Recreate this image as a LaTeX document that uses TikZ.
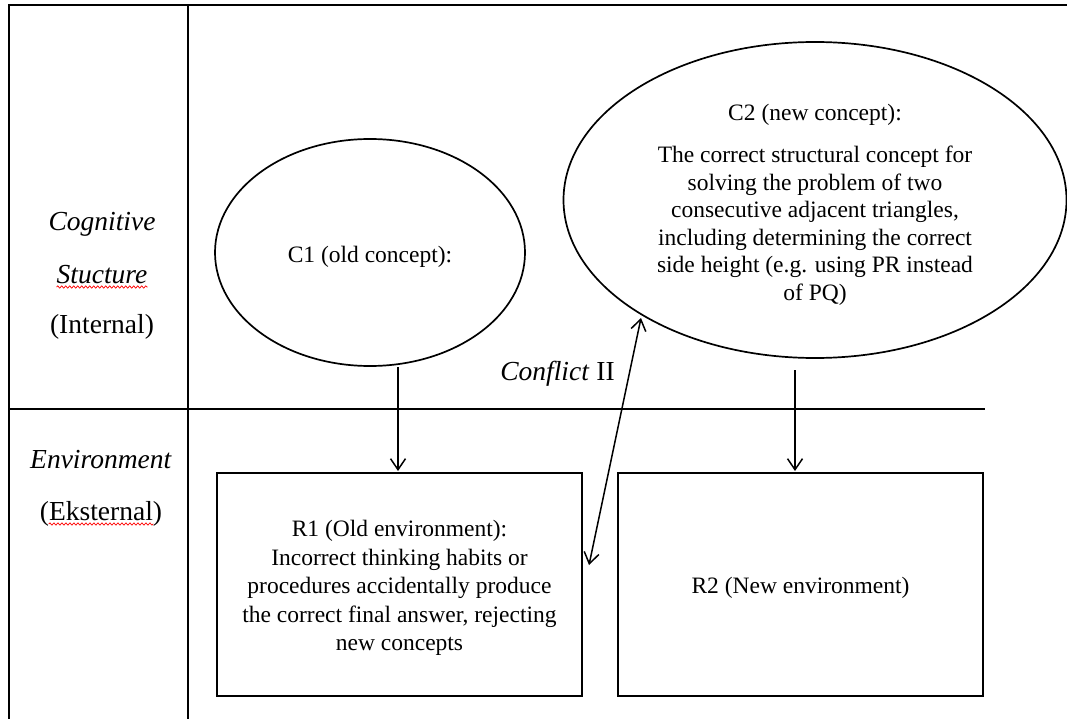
\documentclass[tikz,border=0pt]{standalone}
\usepackage{fontspec}
\setmainfont{Liberation Serif}
\usetikzlibrary{arrows.meta,shapes.geometric,decorations.pathmorphing}
\begin{document}
\begin{tikzpicture}[x=1pt,y=-1pt,
  frameline/.style={line width=2pt},
  concept/.style={ellipse,draw,line width=1.7pt,inner sep=0pt,outer sep=0pt},
  envbox/.style={rectangle,draw,line width=1.8pt,inner sep=0pt,outer sep=0pt,minimum width=365pt,minimum height=223pt},
  boxtext/.style={align=center,inner sep=0pt,font=\fontsize{23.5}{28.5}\selectfont},
  sidelab/.style={inner sep=0pt,anchor=base,font=\fontsize{27.5}{33}\selectfont},
  arr/.style={line width=1.5pt,shorten >=2pt,-{Straight Barb[length=11pt,width=15pt,line width=1.5pt]}},
  darr/.style={line width=1.5pt,{Straight Barb[length=11pt,width=15pt,line width=1.5pt]}-{Straight Barb[length=11pt,width=15pt,line width=1.5pt]}},
  squig/.style={red,line width=0.7pt,decorate,decoration={snake,amplitude=1.1pt,segment length=4pt}}
]
\useasboundingbox (0,0) rectangle (1067,719);
\fill[white] (0,0) rectangle (1067,719);

% frame
\draw[frameline] (1067,5) -- (9,5) -- (9,719);
\draw[frameline] (188,5) -- (188,719);
\draw[frameline] (9,409) -- (985,409);

% side labels
\node[sidelab] (cog) at (102,231) {\textit{Cognitive}};
\node[sidelab] (stuc) at (102,283) {\textit{Stucture}};
\node[sidelab] (int) at (102,333) {(Internal)};
\node[sidelab] (env) at (101,468) {\textit{Environment}};
\node[sidelab] (eks) at (101,520) {(Eksternal)};
\draw[squig] ([yshift=-4pt]stuc.base west) -- ([yshift=-4pt]stuc.base east);
\draw[squig] ([xshift=9pt,yshift=-4pt]eks.base west) -- ([xshift=-9pt,yshift=-4pt]eks.base east);

% concepts
\node[concept,minimum width=310pt,minimum height=227pt] (c1) at (370,252.5) {};
\node[boxtext,anchor=base] (c1txt) at (370,262) {C1 (old concept):};

\node[concept,minimum width=503pt,minimum height=316pt] (c2) at (815,200) {};
\node[boxtext,font=\fontsize{23.5}{27.5}\selectfont] (c2txt) at (815,204.5)
  {C2 (new concept):\\[15.2pt]
   The correct structural concept for\\
   solving the problem of two\\
   consecutive adjacent triangles,\\
   including determining the correct\\
   side height (e.g. using PR instead\\
   of PQ)};

% environments
\node[envbox] (r1) at (399.5,584.5) {};
\node[boxtext] (r1txt) at (399.5,588)
  {R1 (Old environment):\\
   Incorrect thinking habits or\\
   procedures accidentally produce\\
   the correct final answer, rejecting\\
   new concepts};

\node[envbox] (r2) at (800.5,584.5) {};
\node[boxtext,anchor=base] (r2txt) at (800.5,593) {R2 (New environment)};

% conflict label
\node[sidelab] (conf) at (557.5,380) {\textit{Conflict} II};

% connectors
\coordinate (a1top) at (398,367);
\draw[arr] (a1top) -- (a1top |- r1.north);
\coordinate (a2top) at (795,370);
\draw[arr] (a2top) -- (a2top |- r2.north);
\coordinate (dlo) at (589,565);
\coordinate (dhi) at (641,318);
\draw[darr] (dlo) -- (dhi);
\end{tikzpicture}
\end{document}
